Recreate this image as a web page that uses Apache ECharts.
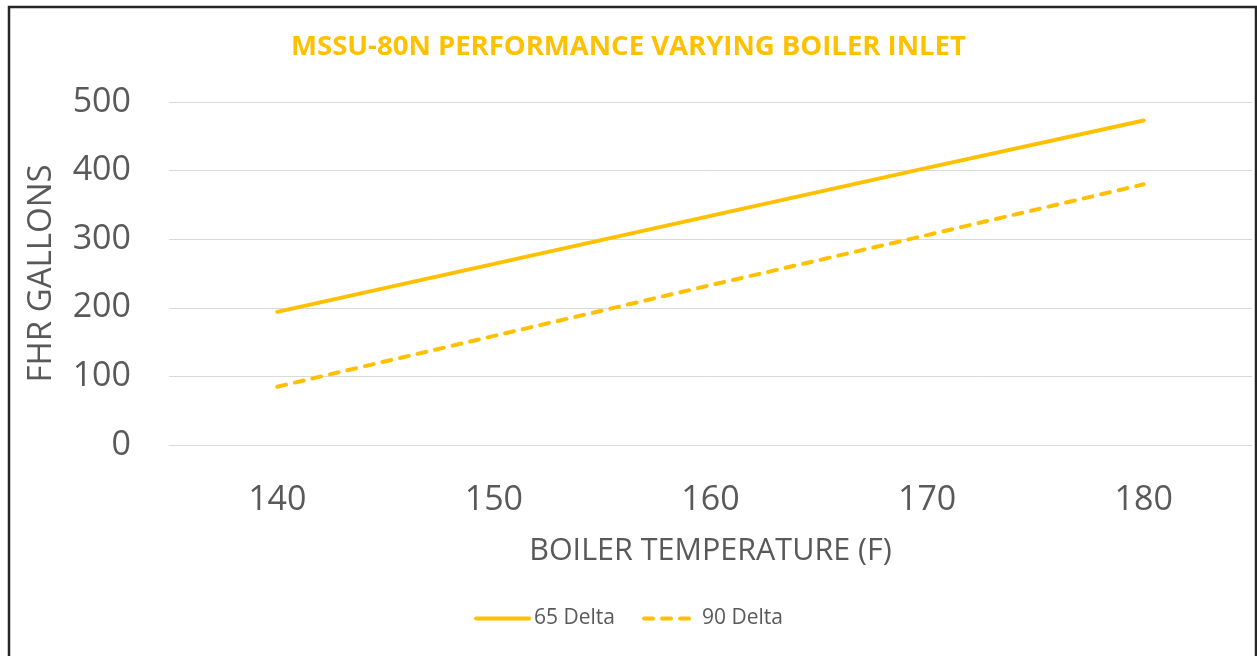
<!DOCTYPE html>
<html>
<head>
<meta charset="utf-8">
<script src="https://cdn.jsdelivr.net/npm/echarts@6/dist/echarts.min.js"></script>
<style>
	html, body { margin: 0; padding: 0; background: #fff; }
	#main { width: 1257px; height: 656px; }
</style>
</head>
<body>
<div id="main"></div>
<script>
// data
var temps = ['140', '150', '160', '170', '180'];
var delta65 = [194, 264, 334, 404, 473];
var delta90 = [85, 159, 233, 306, 380];
var yTicks = { min: 0, max: 500, step: 100 };

var gold = '#FFC000';
var grey = '#595959';
var font = '"Open Sans", "Noto Sans", sans-serif';

function drawChart(cont){
	var dom = document.getElementById(cont);
	var myChart = echarts.init(dom);
	var option = {
		animation: false,
		title: {
			text: 'MSSU-80N PERFORMANCE VARYING BOILER INLET',
			left: 'center',
			top: 33,
			padding: 0,
			textStyle: { color: gold, fontSize: 27.5, fontWeight: 'bold', fontFamily: font }
		},
		// outer frame
		graphic: [{
			type: 'rect',
			shape: { x: 9, y: 7, width: 1247, height: 700 },
			style: { fill: 'none', stroke: '#262626', lineWidth: 2.5 },
			silent: true
		}],
		legend: {
			top: 603,
			left: 'center',
			itemWidth: 53,
			itemHeight: 14,
			itemGap: 27,
			itemStyle: { opacity: 0 },
			lineStyle: { width: 4 },
			textStyle: { color: grey, fontSize: 21, fontFamily: font },
			data: ['65 Delta', '90 Delta']
		},
		grid: { left: 169, right: 5, top: 102, bottom: 211 },
		xAxis: {
			type: 'category',
			data: temps,
			boundaryGap: true,
			name: 'BOILER TEMPERATURE (F)',
			nameLocation: 'middle',
			nameGap: 91,
			nameTextStyle: { color: grey, fontSize: 30.5, fontFamily: font },
			axisLine: { lineStyle: { color: '#d9d9d9' } },
			axisTick: { show: false },
			axisLabel: { color: grey, fontSize: 34, fontFamily: font, margin: 38 }
		},
		yAxis: {
			type: 'value',
			min: yTicks.min,
			max: yTicks.max,
			interval: yTicks.step,
			name: 'FHR GALLONS',
			nameLocation: 'middle',
			nameGap: 111,
			nameTextStyle: { color: grey, fontSize: 33, fontFamily: font },
			axisLine: { show: false },
			axisTick: { show: false },
			axisLabel: { color: grey, fontSize: 34, fontFamily: font, margin: 38 },
			splitLine: { lineStyle: { color: '#d9d9d9', width: 1 } }
		},
		series: [{
			name: '65 Delta',
			type: 'line',
			data: delta65,
			symbol: 'none',
			itemStyle: { color: gold },
			lineStyle: { color: gold, width: 4, cap: 'round' }
		}, {
			name: '90 Delta',
			type: 'line',
			data: delta90,
			symbol: 'none',
			itemStyle: { color: gold },
			lineStyle: { color: gold, width: 4, type: [9, 9], cap: 'round' }
		}]
	};
	myChart.setOption(option);
}
drawChart('main');
</script>
</body>
</html>
